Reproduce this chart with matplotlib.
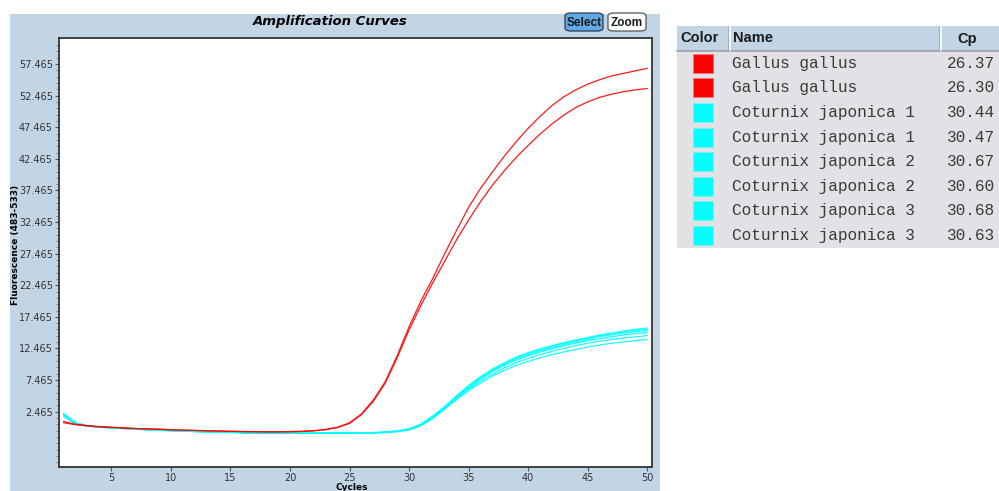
import matplotlib
matplotlib.use("Agg")
import numpy as np
from matplotlib import pyplot as plt
from matplotlib.patches import Rectangle, FancyBboxPatch
from matplotlib.ticker import FixedLocator

W, H = 999, 491

cycles = list(range(1, 51))

# Gallus gallus runs (red)
gallus_1 = [0.9, 0.45, 0.25, 0.1, 0.0, -0.1, -0.2, -0.25, -0.3, -0.4,
            -0.45, -0.5, -0.55, -0.6, -0.65, -0.68, -0.7, -0.72, -0.72, -0.7,
            -0.65, -0.55, -0.35, 0.0, 0.7, 2.1, 4.3, 7.2, 11.3, 15.9,
            20.0, 23.6, 27.5, 31.2, 34.8, 37.8, 40.4, 42.9, 45.2, 47.3,
            49.2, 50.9, 52.3, 53.4, 54.3, 55.0, 55.6, 56.0, 56.4, 56.8]
gallus_2 = [0.7, 0.4, 0.2, 0.05, -0.05, -0.12, -0.22, -0.28, -0.35, -0.42,
            -0.48, -0.52, -0.58, -0.62, -0.66, -0.7, -0.72, -0.74, -0.74, -0.72,
            -0.68, -0.58, -0.4, -0.05, 0.6, 2.0, 4.1, 7.0, 11.0, 15.4,
            19.3, 22.9, 26.3, 29.7, 32.8, 35.7, 38.3, 40.6, 42.7, 44.6,
            46.4, 48.0, 49.4, 50.6, 51.5, 52.2, 52.7, 53.1, 53.4, 53.6]

# Coturnix japonica runs (cyan)
coturnix_1a = [2.2, 0.7, 0.25, 0.05, -0.05, -0.15, -0.25, -0.35, -0.45, -0.5,
               -0.6, -0.65, -0.7, -0.75, -0.8, -0.85, -0.88, -0.9, -0.92, -0.95,
               -0.95, -0.95, -0.95, -0.93, -0.92, -0.9, -0.86, -0.76, -0.58, -0.25,
               0.5, 1.8, 3.3, 5.0, 6.6, 8.0, 9.2, 10.2, 11.1, 11.8,
               12.4, 12.9, 13.4, 13.8, 14.2, 14.6, 14.9, 15.2, 15.5, 15.7]
coturnix_1b = [2.0, 0.6, 0.2, 0.05, -0.05, -0.15, -0.25, -0.35, -0.45, -0.52,
               -0.6, -0.66, -0.72, -0.76, -0.8, -0.85, -0.88, -0.9, -0.93, -0.95,
               -0.96, -0.96, -0.95, -0.94, -0.92, -0.9, -0.87, -0.78, -0.6, -0.28,
               0.45, 1.7, 3.2, 4.9, 6.5, 7.9, 9.1, 10.1, 11.0, 11.7,
               12.3, 12.8, 13.3, 13.7, 14.1, 14.5, 14.8, 15.1, 15.3, 15.5]
coturnix_2a = [1.8, 0.55, 0.2, 0.0, -0.1, -0.2, -0.3, -0.4, -0.5, -0.55,
               -0.62, -0.68, -0.74, -0.78, -0.82, -0.86, -0.9, -0.92, -0.94, -0.96,
               -0.97, -0.97, -0.96, -0.95, -0.93, -0.91, -0.89, -0.82, -0.68, -0.4,
               0.3, 1.5, 3.0, 4.7, 6.3, 7.7, 8.9, 9.9, 10.8, 11.5,
               12.1, 12.6, 13.1, 13.5, 13.9, 14.3, 14.6, 14.9, 15.1, 15.3]
coturnix_2b = [1.9, 0.6, 0.2, 0.02, -0.08, -0.18, -0.28, -0.38, -0.47, -0.53,
               -0.61, -0.67, -0.72, -0.77, -0.81, -0.85, -0.89, -0.91, -0.93, -0.95,
               -0.96, -0.96, -0.95, -0.94, -0.92, -0.9, -0.88, -0.8, -0.65, -0.36,
               0.35, 1.55, 3.05, 4.7, 6.2, 7.6, 8.8, 9.8, 10.6, 11.3,
               11.9, 12.4, 12.9, 13.3, 13.7, 14.0, 14.3, 14.6, 14.8, 15.0]
coturnix_3a = [1.7, 0.5, 0.15, -0.02, -0.12, -0.22, -0.32, -0.42, -0.5, -0.57,
               -0.64, -0.7, -0.75, -0.8, -0.84, -0.88, -0.91, -0.93, -0.95, -0.97,
               -0.98, -0.98, -0.97, -0.96, -0.94, -0.92, -0.9, -0.84, -0.7, -0.42,
               0.25, 1.4, 2.9, 4.5, 6.0, 7.3, 8.4, 9.4, 10.2, 10.9,
               11.5, 12.0, 12.5, 12.9, 13.3, 13.6, 13.9, 14.1, 14.3, 14.5]
coturnix_3b = [1.9, 0.55, 0.18, 0.0, -0.1, -0.2, -0.3, -0.4, -0.48, -0.55,
               -0.62, -0.68, -0.73, -0.78, -0.82, -0.86, -0.9, -0.92, -0.94, -0.96,
               -0.97, -0.97, -0.96, -0.95, -0.93, -0.91, -0.89, -0.82, -0.67, -0.38,
               0.3, 1.45, 2.9, 4.4, 5.8, 7.0, 8.1, 9.0, 9.8, 10.4,
               11.0, 11.5, 11.9, 12.3, 12.7, 13.0, 13.3, 13.5, 13.7, 13.9]

sample_names = ["Gallus gallus", "Gallus gallus",
                "Coturnix japonica 1", "Coturnix japonica 1",
                "Coturnix japonica 2", "Coturnix japonica 2",
                "Coturnix japonica 3", "Coturnix japonica 3"]
sample_cp = ["26.37", "26.30", "30.44", "30.47", "30.67", "30.60", "30.68", "30.63"]
sample_colors = ["#ff0000", "#ff0000", "#00ffff", "#00ffff",
                 "#00ffff", "#00ffff", "#00ffff", "#00ffff"]
curves = [gallus_1, gallus_2, coturnix_1a, coturnix_1b,
          coturnix_2a, coturnix_2b, coturnix_3a, coturnix_3b]

y_major = [2.465, 7.465, 12.465, 17.465, 22.465, 27.465,
           32.465, 37.465, 42.465, 47.465, 52.465, 57.465]
x_major = [5, 10, 15, 20, 25, 30, 35, 40, 45, 50]

PANEL = "#c2d5e5"
ROWS = "#e1e1e6"


def fx(px):
    return px / W


def fy(py):
    return 1 - py / H


fig = plt.figure(figsize=(W / 100, H / 100), dpi=100)
fig.patch.set_facecolor("white")

# chart panel, behind the axes
fig.patches.append(Rectangle((fx(10), 0), fx(650), fy(14),
                             transform=fig.transFigure, facecolor=PANEL,
                             edgecolor="none", zorder=-5))

ax = fig.add_axes([fx(59), fy(467), fx(652 - 59), fy(38) - fy(467)])
ax.set_facecolor("white")
# cyan first so red sits on top
for i in [2, 3, 4, 5, 6, 7, 0, 1]:
    ax.plot(cycles, curves[i], color=sample_colors[i], lw=0.9, alpha=0.9)

ax.set_xlim(0.6, 50.4)
ax.set_ylim(-6.3, 61.6)
ax.xaxis.set_major_locator(FixedLocator(x_major))
ax.yaxis.set_major_locator(FixedLocator(y_major))
ax.yaxis.set_minor_locator(FixedLocator(np.arange(-5.535, 61.0, 1.0)))
ax.set_yticklabels([f"{v:.3f}" for v in y_major])
ax.tick_params(axis="both", which="major", labelsize=7, colors="#555555",
               labelcolor="#333333", length=3, width=0.8, pad=1.5)
ax.tick_params(axis="x", which="major", pad=1.0)
ax.tick_params(axis="y", which="minor", length=2, width=0.6, colors="#777777")
for s in ax.spines.values():
    s.set_color("#333333")
    s.set_linewidth(1.3)

ax.set_xlabel("Cycles", fontsize=6.5, fontweight="bold")
ax.xaxis.set_label_coords(0.493, (467 - 487.5) / 429)
ax.xaxis.label.set_va("center")
ax.set_ylabel("Fluorescence (483-533)", fontsize=6.5, fontweight="bold")
ax.yaxis.set_label_coords((16 - 59) / 593, (467 - 245) / 429)
ax.yaxis.label.set_va("center")

fig.text(fx(330), fy(22), "Amplification Curves", ha="center", va="center",
         fontsize=9.5, fontweight="bold", style="italic", family="DejaVu Sans")

# buttons
fig.patches.append(FancyBboxPatch((fx(565), fy(31)), fx(38), fy(13) - fy(31),
                                  boxstyle="round,pad=0,rounding_size=0.006",
                                  transform=fig.transFigure, facecolor="#62a8e2",
                                  edgecolor="#2a3a50", lw=0.9, zorder=2))
fig.text(fx(584), fy(22.5), "Select", ha="center", va="center", fontsize=8.5,
         fontweight="bold", family="Liberation Sans", color="#1a1a1a", zorder=3)
fig.patches.append(FancyBboxPatch((fx(608), fy(31)), fx(38), fy(13) - fy(31),
                                  boxstyle="round,pad=0,rounding_size=0.006",
                                  transform=fig.transFigure, facecolor="white",
                                  edgecolor="#555555", lw=0.9, zorder=2))
fig.text(fx(627), fy(22.5), "Zoom", ha="center", va="center", fontsize=8.5,
         fontweight="bold", family="Liberation Sans", color="#1a1a1a", zorder=3)

# sample table
tab_left, tab_right = 677, 999
head_top, head_bot = 26, 51
row_h = 24.6
fig.patches.append(Rectangle((fx(tab_left), fy(head_bot)), fx(tab_right - tab_left),
                             fy(head_top) - fy(head_bot), transform=fig.transFigure,
                             facecolor=PANEL, edgecolor="none"))
rows_bot = head_bot + row_h * len(sample_names)
fig.patches.append(Rectangle((fx(tab_left), fy(rows_bot)), fx(tab_right - tab_left),
                             fy(head_bot) - fy(rows_bot), transform=fig.transFigure,
                             facecolor=ROWS, edgecolor="none"))
fig.add_artist(plt.Line2D([fx(tab_left), fx(tab_right)], [fy(head_bot), fy(head_bot)],
                          transform=fig.transFigure, color="#9aa0a8", lw=1.2))
for sx in [729.5, 940.5]:
    fig.add_artist(plt.Line2D([fx(sx), fx(sx)], [fy(head_top), fy(head_bot - 1)],
                              transform=fig.transFigure, color="white", lw=1.2))
    fig.add_artist(plt.Line2D([fx(sx - 1.2), fx(sx - 1.2)], [fy(head_top), fy(head_bot - 1)],
                              transform=fig.transFigure, color="#9aa6b4", lw=0.6))

head_kw = dict(va="center", fontsize=10.5, fontweight="bold",
               family="Liberation Sans", color="#1a1a1a")
fig.text(fx(680), fy(38.5), "Color", ha="left", **head_kw)
fig.text(fx(733), fy(38.5), "Name", ha="left", **head_kw)
fig.text(fx(967), fy(38.5), "Cp", ha="center", **head_kw)

for i, (name, cp, col) in enumerate(zip(sample_names, sample_cp, sample_colors)):
    yc = head_bot + row_h * (i + 0.5)
    fig.patches.append(Rectangle((fx(693), fy(yc + 9.5)), fx(20), fy(yc - 9.5) - fy(yc + 9.5),
                                 transform=fig.transFigure, facecolor=col,
                                 edgecolor="#e08080" if col == "#ff0000" else "#80f0f0",
                                 lw=0.5))
    fig.text(fx(732), fy(yc), name, ha="left", va="center", fontsize=11.6,
             family="Liberation Mono", color="#3a3a3a")
    fig.text(fx(995), fy(yc), cp, ha="right", va="center", fontsize=11.6,
             family="Liberation Mono", color="#3a3a3a")

fig.savefig("out.png", dpi=100)
